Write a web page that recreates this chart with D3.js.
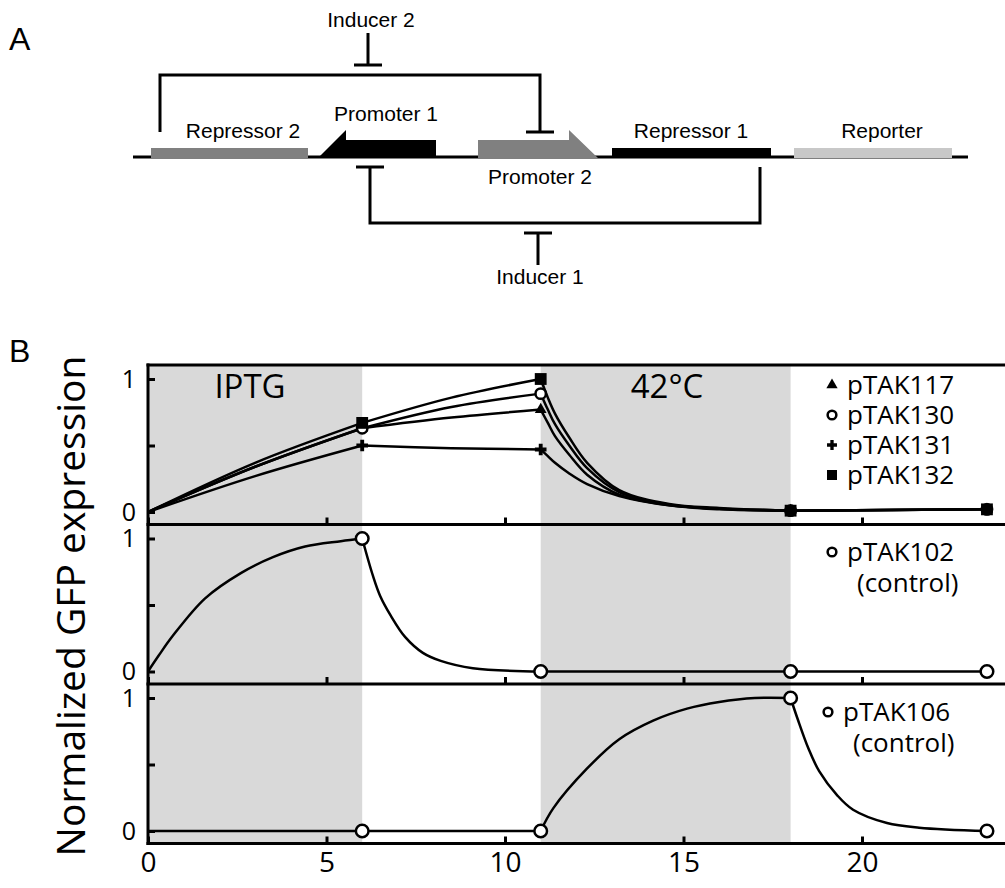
<!DOCTYPE html>
<html>
<head>
<meta charset="utf-8">
<script src="https://cdn.jsdelivr.net/npm/d3@7"></script>
<style>
  body { margin: 0; background: #fff; }
  svg { display: block; }
</style>
</head>
<body>
<script>
// ---- data ----
var timePoints = [0, 6, 11, 18, 23.5];          // sampling times (h)
var xTicks = [0, 5, 10, 15, 20];
var yTicks = [0, 0.5, 1];
var shadeStart = [0, 11];
var shadeEnd = [6, 18];
var shadeLabels = ["IPTG", "42\u00B0C"];

// measured points, normalized GFP (t = 0 marker is hidden under the axis)
var pTAK117 = [0, 0.63, 0.77, 0.01, 0.02];
var pTAK130 = [0, 0.63, 0.89, 0.01, 0.02];
var pTAK131 = [0, 0.50, 0.47, 0.01, 0.02];
var pTAK132 = [0, 0.67, 1.00, 0.01, 0.02];
var pTAK102 = [0, 1, 0, 0, 0];
var pTAK106 = [0, 0, 0, 1, 0];

// fitted curves
var fitT1 = [0, 3, 6, 8.5, 11, 11.2, 11.4, 11.8, 12.3, 13.2, 14.6, 16, 18, 23.5];
var fit117 = [0, 0.34, 0.63, 0.71, 0.77, 0.67, 0.57, 0.43, 0.28, 0.13, 0.05, 0.02, 0.01, 0.02];
var fit130 = [0, 0.34, 0.63, 0.79, 0.89, 0.77, 0.66, 0.50, 0.33, 0.15, 0.055, 0.025, 0.01, 0.02];
var fit131 = [0, 0.27, 0.50, 0.48, 0.47, 0.42, 0.37, 0.29, 0.21, 0.12, 0.05, 0.025, 0.01, 0.02];
var fit132 = [0, 0.37, 0.67, 0.86, 1.00, 0.86, 0.74, 0.56, 0.37, 0.165, 0.06, 0.03, 0.01, 0.02];
var fitT102 = [0, 0.3, 0.7, 1.6, 2.6, 3.5, 4.4, 5.4, 6, 6.3, 6.5, 6.8, 7.2, 7.7, 8.2, 9.1, 11, 18, 23.5];
var fit102 = [0, 0.12, 0.27, 0.55, 0.74, 0.86, 0.94, 0.98, 1, 0.72, 0.57, 0.42, 0.26, 0.14, 0.08, 0.025, 0, 0, 0];
var fitT106 = [0, 6, 11, 11.35, 12.3, 13.2, 14.15, 15.1, 16, 17, 18, 18.2, 18.5, 18.8, 19.3, 19.75, 20.7, 21.6, 23.5];
var fit106 = [0, 0, 0, 0.17, 0.47, 0.69, 0.83, 0.92, 0.97, 1.0, 1.0, 0.84, 0.62, 0.45, 0.27, 0.16, 0.06, 0.025, 0];

var width = 1005, height = 888;
var svg = d3.select("body").append("svg")
  .attr("width", width).attr("height", height);

var sans = "Liberation Sans, Arial, sans-serif";
var sansB = "Open Sans, Noto Sans, sans-serif";

// ================= panel A : circuit diagram =================
var gA = svg.append("g");
gA.append("text").attr("x", 9).attr("y", 50).text("A")
  .style("font-family", sans).style("font-size", "32px");

// backbone
gA.append("line").attr("x1", 133).attr("x2", 968).attr("y1", 157).attr("y2", 157)
  .attr("stroke", "#000").attr("stroke-width", 3);

// genes
gA.append("rect").attr("x", 151).attr("y", 148).attr("width", 157).attr("height", 10).attr("fill", "#808080");
gA.append("rect").attr("x", 612).attr("y", 148).attr("width", 159).attr("height", 10).attr("fill", "#000");
gA.append("rect").attr("x", 794).attr("y", 148).attr("width", 158).attr("height", 10).attr("fill", "#c8c8c8");
// promoters
gA.append("polygon").attr("points", "318,158 346,130 346,140 436,140 436,158").attr("fill", "#000");
gA.append("polygon").attr("points", "478,158 478,140 569,140 569,130 598,158").attr("fill", "#808080");

// repression brackets
var path = d3.path();
path.moveTo(160, 132); path.lineTo(160, 75); path.lineTo(540, 75); path.lineTo(540, 132);
path.moveTo(526, 132); path.lineTo(554, 132);
path.moveTo(368, 33); path.lineTo(368, 65);
path.moveTo(354, 65); path.lineTo(382, 65);
path.moveTo(760, 167); path.lineTo(760, 223); path.lineTo(370, 223); path.lineTo(370, 167);
path.moveTo(356, 167); path.lineTo(384, 167);
path.moveTo(538, 265); path.lineTo(538, 233);
path.moveTo(524, 233); path.lineTo(552, 233);
gA.append("path").attr("d", path.toString()).attr("fill", "none")
  .attr("stroke", "#000").attr("stroke-width", 3);

var labelsA = [
  ["Inducer 2", 371, 27], ["Promoter 1", 386, 121], ["Repressor 2", 243, 138],
  ["Repressor 1", 691, 138], ["Reporter", 882, 138], ["Promoter 2", 540, 184],
  ["Inducer 1", 540, 284]
];
gA.selectAll("text.lab").data(labelsA).enter().append("text")
  .attr("class", "lab")
  .attr("x", function(d){ return d[1]; })
  .attr("y", function(d){ return d[2]; })
  .attr("text-anchor", "middle")
  .style("font-family", sans).style("font-size", "21px")
  .text(function(d){ return d[0]; });

// ================= panel B : time courses =================
svg.append("text").attr("x", 9).attr("y", 362).text("B")
  .style("font-family", sans).style("font-size", "32px");

var x = d3.scaleLinear().domain([0, 20]).range([148, 862]);
var panelTop = [365, 524.5, 684];
var panelH = 159.5;
var bottom = panelTop[2] + panelH;
var right = 1010;

function yScale(p) {
  return d3.scaleLinear().domain([0, 1]).range([panelTop[p] + 147, panelTop[p] + 14]);
}

// shaded induction windows
svg.selectAll("rect.shade").data(shadeStart).enter().append("rect")
  .attr("class", "shade")
  .attr("x", function(d){ return x(d); })
  .attr("width", function(d, i){ return x(shadeEnd[i]) - x(d); })
  .attr("y", panelTop[0]).attr("height", bottom - panelTop[0])
  .attr("fill", "#d9d9d9");

svg.selectAll("text.shadeLab").data(shadeLabels).enter().append("text")
  .attr("class", "shadeLab")
  .attr("x", function(d, i){ return i === 0 ? 250 : 667; })
  .attr("y", 398)
  .attr("text-anchor", "middle")
  .style("font-family", sansB).style("font-size", "33px")
  .text(function(d){ return d; });

var sym = {
  triangle: d3.symbol().type(d3.symbolTriangle).size(60),
  circle: d3.symbol().type(d3.symbolCircle).size(85),
  cross: d3.symbol().type(d3.symbolCross).size(75),
  square: d3.symbol().type(d3.symbolSquare).size(140),
  bigCircle: d3.symbol().type(d3.symbolCircle).size(125)
};

var panels = [
  { series: [
      { name: "pTAK131", vals: pTAK131, fitT: fitT1, fit: fit131, shape: "cross" },
      { name: "pTAK117", vals: pTAK117, fitT: fitT1, fit: fit117, shape: "triangle" },
      { name: "pTAK130", vals: pTAK130, fitT: fitT1, fit: fit130, shape: "circle" },
      { name: "pTAK132", vals: pTAK132, fitT: fitT1, fit: fit132, shape: "square" }
    ],
    legend: ["pTAK117", "pTAK130", "pTAK131", "pTAK132"],
    legendShape: ["triangle", "circle", "cross", "square"] },
  { series: [ { name: "pTAK102", vals: pTAK102, fitT: fitT102, fit: fit102, shape: "bigCircle" } ],
    legend: ["pTAK102"], legendShape: ["circle"] },
  { series: [ { name: "pTAK106", vals: pTAK106, fitT: fitT106, fit: fit106, shape: "bigCircle" } ],
    legend: ["pTAK106"], legendShape: ["circle"] }
];

function fillFor(shape) {
  return (shape === "circle" || shape === "bigCircle") ? "#fff" : "#000";
}

panels.forEach(function(p, pi) {
  var y = yScale(pi);
  var g = svg.append("g");

  // left axis, inward ticks
  g.append("g").attr("transform", "translate(148,0)")
    .call(d3.axisLeft(y).tickValues(yTicks).tickSize(-7).tickPadding(12)
      .tickFormat(function(d){ return d === 0.5 ? "" : d3.format("d")(d); }))
    .call(function(a){
      a.select(".domain").remove();
      a.selectAll("line").attr("stroke-width", 3);
      a.selectAll("text").style("font-family", sansB).style("font-size", "25px").attr("fill", "#000");
    });

  // bottom ticks for each panel
  var ax = d3.axisBottom(x).tickValues(xTicks).tickSize(-7).tickPadding(9);
  if (pi < 2) ax.tickFormat("");
  g.append("g").attr("transform", "translate(0," + (panelTop[pi] + panelH) + ")")
    .call(ax)
    .call(function(a){
      a.select(".domain").remove();
      a.selectAll("line").attr("stroke-width", 3);
      a.selectAll("text").style("font-family", sansB).style("font-size", "28px").attr("fill", "#000");
    });

  // curves: a smooth segment between each pair of sampling times
  var line = d3.line().x(function(d){ return x(d[0]); }).y(function(d){ return y(d[1]); })
    .curve(d3.curveCatmullRom.alpha(0.5));
  p.series.forEach(function(s) {
    var pts = s.fitT.map(function(t, i){ return [t, s.fit[i]]; });
    for (var k = 0; k < timePoints.length - 1; k++) {
      var seg = pts.filter(function(d){ return d[0] >= timePoints[k] && d[0] <= timePoints[k + 1]; });
      g.append("path").attr("d", line(seg)).attr("fill", "none")
        .attr("stroke", "#000").attr("stroke-width", 2.5);
    }
  });

  // markers (skip t = 0, which sits under the axis in the original)
  p.series.forEach(function(s) {
    var pts = s.vals.map(function(v, i){ return [timePoints[i], v]; }).slice(1);
    g.selectAll("path.m-" + s.name).data(pts).enter().append("path")
      .attr("class", "m-" + s.name)
      .attr("d", sym[s.shape])
      .attr("transform", function(d){ return "translate(" + x(d[0]) + "," + y(d[1]) + ")"; })
      .attr("fill", fillFor(s.shape))
      .attr("stroke", "#000").attr("stroke-width", s.shape === "circle" || s.shape === "bigCircle" ? 2.5 : 0);
  });

  // legend
  var lx = pi === 2 ? 828 : 832;
  var ly0 = [385, 552, 712][pi];
  var lg = g.append("g");
  p.legend.forEach(function(name, i) {
    var cy = ly0 + i * 30;
    lg.append("path").attr("d", d3.symbol().type(
        { triangle: d3.symbolTriangle, circle: d3.symbolCircle, cross: d3.symbolCross, square: d3.symbolSquare }[p.legendShape[i]])
        .size(p.legendShape[i] === "square" ? 100 : (p.legendShape[i] === "circle" ? 60 : 55)))
      .attr("transform", "translate(" + lx + "," + cy + ")")
      .attr("fill", fillFor(p.legendShape[i])).attr("stroke", "#000")
      .attr("stroke-width", p.legendShape[i] === "circle" ? 2.5 : 0);
    lg.append("text").attr("x", lx + 15).attr("y", cy + 9)
      .style("font-family", sansB).style("font-size", "26px").text(name);
  });
  if (pi > 0) {
    lg.append("text").attr("x", lx + 25).attr("y", ly0 + 40)
      .style("font-family", sansB).style("font-size", "26px").text("(control)");
  }
});

// frame lines
var frameYs = [panelTop[0], panelTop[1], panelTop[2], bottom];
svg.selectAll("line.frame").data(frameYs).enter().append("line")
  .attr("x1", 146.5).attr("x2", right)
  .attr("y1", function(d){ return d; }).attr("y2", function(d){ return d; })
  .attr("stroke", "#000").attr("stroke-width", 3);
svg.append("line").attr("x1", 148).attr("x2", 148)
  .attr("y1", panelTop[0] - 1.5).attr("y2", bottom + 1.5)
  .attr("stroke", "#000").attr("stroke-width", 3);

// y label
svg.append("text")
  .attr("transform", "translate(85,606) rotate(-90)")
  .attr("text-anchor", "middle")
  .style("font-family", sansB).style("font-size", "39px")
  .text("Normalized GFP expression");
</script>
</body>
</html>
